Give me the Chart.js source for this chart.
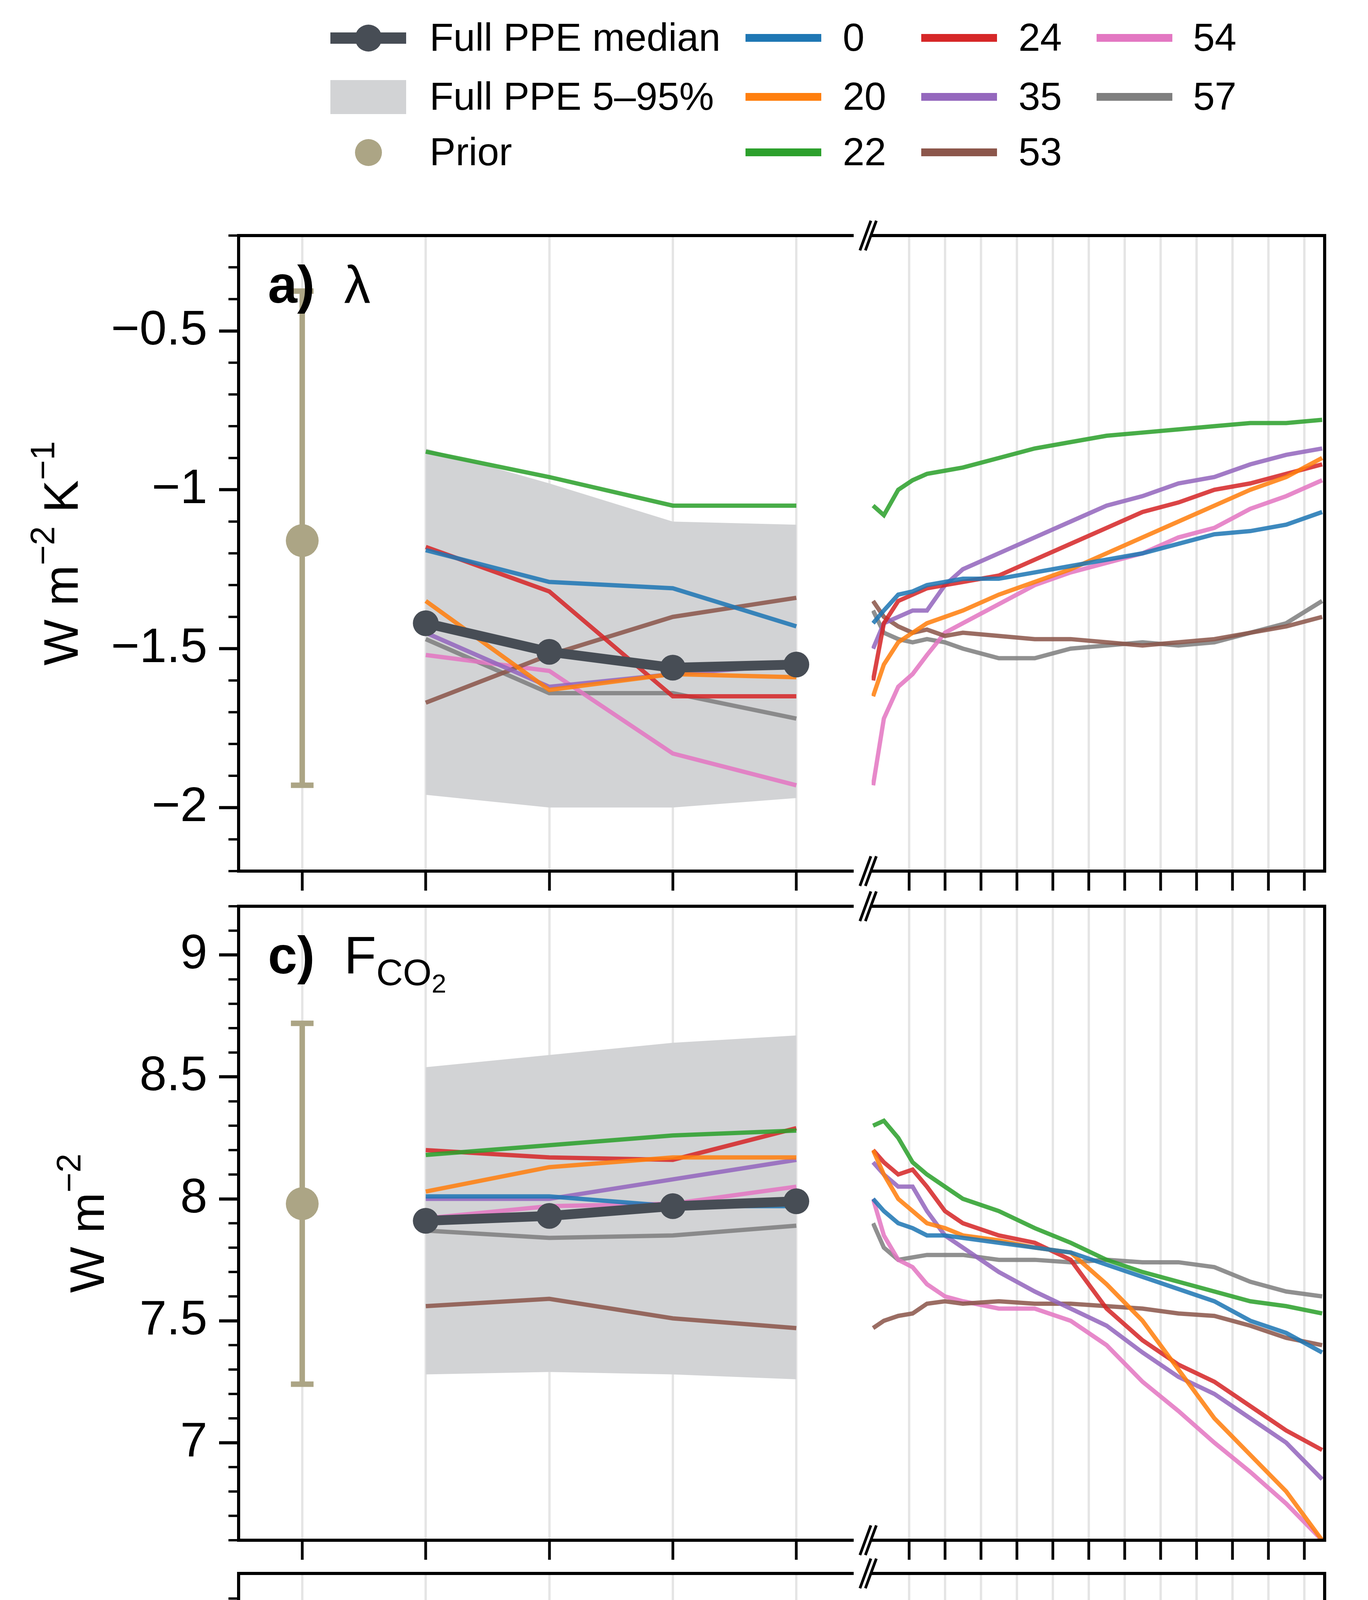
<!DOCTYPE html>
<html><head><meta charset="utf-8">
<script src="https://cdn.jsdelivr.net/npm/chart.js@4"></script>
<style>
body{margin:0;background:#fff;width:3503px;height:6075px;position:relative;overflow:hidden;font-family:"Liberation Sans",Arial,sans-serif;}
canvas{position:absolute;}
.lg{position:absolute;font-size:100px;line-height:100px;color:#000;white-space:nowrap;}
.ln{position:absolute;height:20px;}
</style></head><body>
<script>
// ---------- data ----------
const SERIES_IDS = ['0','20','22','24','35','53','54','57'];
const SERIES_COLORS = ['#1f77b4','#ff7f0e','#2ca02c','#d62728','#9467bd','#8c564b','#e377c2','#7f7f7f'];
const LEFT_X = [2,3,4,5];
const RIGHT_X = [5,8,12,16,20,25,30,40,50,60,70,80,90,100,110,120,130];
const LEFT_TICKS = [1,2,3,4,5];
const LEFT_TICK_LABELS = ['Prior','2','3','4','5'];
const RIGHT_TICKS = [15,25,35,45,55,65,75,85,95,105,115,125];

// panel a: lambda
const A_PRIOR = [-1.16,-1.93,-0.375];
const A_MEDIAN = [-1.42,-1.51,-1.56,-1.55];
const A_BAND_HI = [-0.87,-0.98,-1.10,-1.11];
const A_BAND_LO = [-1.96,-2.00,-2.00,-1.97];
const A_LEFT = [
 [-1.19,-1.29,-1.31,-1.43],
 [-1.35,-1.63,-1.58,-1.59],
 [-0.88,-0.96,-1.05,-1.05],
 [-1.18,-1.32,-1.65,-1.65],
 [-1.45,-1.62,-1.58,-1.55],
 [-1.67,-1.52,-1.40,-1.34],
 [-1.52,-1.57,-1.83,-1.93],
 [-1.47,-1.64,-1.64,-1.72]];
const A_RIGHT = [
 [-1.42,-1.38,-1.33,-1.32,-1.30,-1.29,-1.28,-1.28,-1.26,-1.24,-1.22,-1.20,-1.17,-1.14,-1.13,-1.11,-1.07],
 [-1.65,-1.55,-1.48,-1.45,-1.42,-1.40,-1.38,-1.33,-1.29,-1.25,-1.20,-1.15,-1.10,-1.05,-1.00,-0.96,-0.90],
 [-1.05,-1.08,-1.00,-0.97,-0.95,-0.94,-0.93,-0.90,-0.87,-0.85,-0.83,-0.82,-0.81,-0.80,-0.79,-0.79,-0.78],
 [-1.60,-1.42,-1.35,-1.33,-1.31,-1.30,-1.29,-1.27,-1.22,-1.17,-1.12,-1.07,-1.04,-1.00,-0.98,-0.95,-0.92],
 [-1.50,-1.42,-1.40,-1.38,-1.38,-1.30,-1.25,-1.20,-1.15,-1.10,-1.05,-1.02,-0.98,-0.96,-0.92,-0.89,-0.87],
 [-1.35,-1.40,-1.43,-1.45,-1.44,-1.46,-1.45,-1.46,-1.47,-1.47,-1.48,-1.49,-1.48,-1.47,-1.45,-1.43,-1.40],
 [-1.93,-1.72,-1.62,-1.58,-1.52,-1.45,-1.42,-1.36,-1.30,-1.26,-1.23,-1.20,-1.15,-1.12,-1.06,-1.02,-0.97],
 [-1.38,-1.45,-1.47,-1.48,-1.47,-1.48,-1.50,-1.53,-1.53,-1.50,-1.49,-1.48,-1.49,-1.48,-1.45,-1.42,-1.35]];
const A_YTICKS = [-2,-1.5,-1,-0.5];

// panel c: F_CO2
const C_PRIOR = [7.98,7.24,8.72];
const C_MEDIAN = [7.91,7.93,7.97,7.99];
const C_BAND_HI = [8.54,8.59,8.64,8.67];
const C_BAND_LO = [7.28,7.29,7.28,7.26];
const C_LEFT = [
 [8.01,8.01,7.97,7.97],
 [8.03,8.13,8.17,8.17],
 [8.18,8.22,8.26,8.28],
 [8.20,8.17,8.16,8.29],
 [8.00,8.00,8.08,8.16],
 [7.56,7.59,7.51,7.47],
 [7.92,7.97,7.98,8.05],
 [7.87,7.84,7.85,7.89]];
const C_RIGHT = [
 [8.00,7.95,7.90,7.88,7.85,7.85,7.84,7.82,7.80,7.78,7.73,7.68,7.63,7.58,7.50,7.45,7.37],
 [8.20,8.10,8.00,7.95,7.90,7.88,7.85,7.83,7.80,7.78,7.65,7.50,7.30,7.10,6.95,6.80,6.60],
 [8.30,8.32,8.25,8.15,8.10,8.05,8.00,7.95,7.88,7.82,7.75,7.70,7.66,7.62,7.58,7.56,7.53],
 [8.20,8.15,8.10,8.12,8.05,7.95,7.90,7.85,7.82,7.75,7.55,7.42,7.32,7.25,7.15,7.05,6.97],
 [8.15,8.10,8.05,8.05,7.95,7.85,7.80,7.70,7.62,7.55,7.48,7.37,7.27,7.20,7.10,7.00,6.85],
 [7.47,7.50,7.52,7.53,7.57,7.58,7.57,7.58,7.57,7.57,7.56,7.55,7.53,7.52,7.48,7.43,7.40],
 [8.00,7.85,7.75,7.72,7.65,7.60,7.58,7.55,7.55,7.50,7.40,7.25,7.13,7.00,6.88,6.75,6.60],
 [7.90,7.80,7.75,7.76,7.77,7.77,7.77,7.75,7.75,7.74,7.75,7.74,7.74,7.72,7.66,7.62,7.60]];
const C_YTICKS = [7,7.5,8,8.5,9];

// panel e: ECS
const E_PRIOR = [3.45,2.02,9.85];
const E_MEDIAN = [2.78,2.63,2.57,2.60];
const E_BAND_HI = [4.40,3.85,3.60,3.50];
const E_BAND_LO = [2.00,2.00,2.00,2.00];
const E_LEFT = [
 [3.35,3.10,3.05,2.75],
 [3.00,2.60,2.50,2.60],
 [4.62,4.30,3.95,3.97],
 [3.50,3.10,2.50,2.55],
 [2.75,2.55,2.60,2.70],
 [2.25,2.50,2.65,2.70],
 [2.55,2.50,2.15,2.08],
 [2.60,2.50,2.40,2.30]];
const E_RIGHT = [
 [2.80,2.85,2.90,2.90,2.90,2.92,2.95,2.98,3.00,3.05,3.12,3.20,3.27,3.33,3.40,3.45,3.50],
 [2.40,2.55,2.60,2.65,2.70,2.73,2.75,2.82,2.90,3.00,3.10,3.20,3.30,3.40,3.50,3.58,3.65],
 [3.80,3.75,3.90,4.05,4.10,4.15,4.20,4.30,4.40,4.50,4.60,4.68,4.75,4.80,4.83,4.84,4.85],
 [2.70,2.75,2.80,2.80,2.80,2.85,2.88,2.95,3.00,3.10,3.20,3.30,3.40,3.48,3.55,3.65,3.75],
 [2.60,2.75,2.80,2.85,2.90,2.95,3.00,3.10,3.20,3.30,3.40,3.50,3.58,3.65,3.75,3.83,3.92],
 [2.70,2.65,2.65,2.62,2.60,2.60,2.60,2.58,2.57,2.55,2.55,2.55,2.57,2.58,2.60,2.62,2.65],
 [2.20,2.35,2.45,2.55,2.60,2.65,2.70,2.75,2.80,2.88,2.95,3.00,3.08,3.15,3.20,3.30,3.40],
 [2.60,2.62,2.65,2.65,2.65,2.65,2.65,2.60,2.57,2.55,2.55,2.56,2.58,2.60,2.60,2.65,2.75]];
const E_YTICKS = [0,2,4,6,8,10];

// ---------- layout ----------
const FONT = '"Liberation Sans", Arial, sans-serif';
const TICKF = 125;
const PLOT_L = 611, SPLIT = 2214, RIGHT_L = 2232, PLOT_R = 3392;
const LW = 8;
const MEDIAN_C = '#474d55', PRIOR_C = '#aca585', BAND_C = '#d2d3d5', GRID_C = 'rgba(0,0,0,0.1)';
const LINE_W = 11;
function alpha(hex){ return hex + 'dd'; }

function richText(ctx, segs, x, y, align) {
  let w = 0;
  segs.forEach(s => { ctx.font = (s.bold?'bold ':'') + s.size + 'px ' + FONT; s.w = ctx.measureText(s.t).width; w += s.w; });
  let cx = align === 'center' ? x - w/2 : x;
  segs.forEach(s => { ctx.font = (s.bold?'bold ':'') + s.size + 'px ' + FONT; ctx.fillText(s.t, cx, y + (s.dy||0)); cx += s.w; });
}

const framePlugin = {
  id: 'frame',
  afterDraw(chart, args, o) {
    const ctx = chart.ctx, a = chart.chartArea;
    ctx.save();
    ctx.strokeStyle = '#000'; ctx.lineWidth = LW; ctx.lineCap = 'square';
    ctx.beginPath();
    if (o.side === 'left') {
      ctx.moveTo(a.right + 10, a.top); ctx.lineTo(a.left, a.top); ctx.lineTo(a.left, a.bottom); ctx.lineTo(a.right + 10, a.bottom);
    } else {
      ctx.moveTo(a.left, a.top); ctx.lineTo(a.right, a.top); ctx.lineTo(a.right, a.bottom); ctx.lineTo(a.left, a.bottom);
    }
    ctx.stroke();
    if (o.side === 'left') {
      const ys = chart.scales.y;
      ctx.lineWidth = 6; ctx.lineCap = 'butt'; ctx.beginPath();
      for (let v = o.minorStart; v <= ys.max + 1e-9; v += o.minor) {
        const p = ys.getPixelForValue(v);
        if (p < a.top - 1 || p > a.bottom + 1) continue;
        ctx.moveTo(a.left, p); ctx.lineTo(a.left - 26, p);
      }
      ctx.stroke();
      ctx.fillStyle = '#000'; ctx.textBaseline = 'middle';
      ctx.save(); ctx.translate(o.titleX, (a.top + a.bottom)/2); ctx.rotate(-Math.PI/2);
      richText(ctx, o.title, 0, 0, 'center'); ctx.restore();
      ctx.textBaseline = 'alphabetic';
      richText(ctx, o.label, 686, a.top + 172, 'left');
    } else {
      ctx.lineWidth = 7; ctx.lineCap = 'butt';
      [a.top, a.bottom].forEach(yy => {
        [-12, 2].forEach(dx => {
          ctx.beginPath(); ctx.moveTo(a.left + dx - 18, yy + 38); ctx.lineTo(a.left + dx + 10, yy - 38); ctx.stroke();
        });
      });
    }
    ctx.restore();
  },
  beforeDatasetsDraw(chart, args, o) {
    if (o.side !== 'left') return;
    const ctx = chart.ctx, xs = chart.scales.x, ys = chart.scales.y;
    const px = xs.getPixelForValue(1), lo = ys.getPixelForValue(o.prior[1]), hi = ys.getPixelForValue(o.prior[2]);
    ctx.save(); ctx.strokeStyle = PRIOR_C; ctx.lineWidth = 14;
    ctx.beginPath(); ctx.moveTo(px, lo); ctx.lineTo(px, hi);
    ctx.moveTo(px - 29, lo); ctx.lineTo(px + 29, lo); ctx.moveTo(px - 29, hi); ctx.lineTo(px + 29, hi);
    ctx.stroke(); ctx.restore();
  }
};
Chart.register(framePlugin);

function fmt(v){ const s = String(Math.round(v*100)/100); return s.replace('-', '\u2212'); }

function makePanel(p) {
  const padTop = 100;
  const plotH = p.bottom - p.top;
  const xh = p.labels ? 240 : 80;
  const H = padTop + plotH + xh;
  const yScale = (disp) => {
    const s = {
    type:'linear', min:p.ymin, max:p.ymax, display: disp,
    afterBuildTicks: s => { s.ticks = p.yticks.map(v => ({value:v})); },
    grid:{ drawOnChartArea:false, tickLength:50, tickWidth:8, tickColor:'#000', drawTicks:true },
    border:{ display:false },
    ticks:{ font:{size:TICKF, family:FONT}, color:'#000', padding:30, callback:v=>fmt(v) }
    };
    if (disp) s.afterFit = sc => { sc.width = PLOT_L; sc.paddingTop = 0; sc.paddingBottom = 0; };
    return s;
  };
  const xScale = (ticks, labels, min, max) => ({
    type:'linear', min, max, z:1,
    afterBuildTicks: s => { s.ticks = ticks.map(v => ({value:v})); },
    afterFit: s => { s.height = xh; s.paddingLeft = 0; s.paddingRight = 0; },
    grid:{ color:GRID_C, lineWidth:6, tickLength:50, tickWidth:7, tickColor:'#000' },
    border:{ display:false },
    ticks:{ font:{size:TICKF, family:FONT}, color:'#000', padding:16, autoSkip:false, maxRotation:0,
      callback:(v,i)=> p.labels ? labels[i] : '' }
  });
  const c1 = document.createElement('canvas');
  c1.style.left = '0px'; c1.style.top = (p.top - padTop) + 'px';
  c1.width = SPLIT; c1.height = H;
  document.body.appendChild(c1);
  const ds1 = [
    {data: LEFT_X.map((x,i)=>({x,y:p.bandHi[i]})), borderWidth:0, pointRadius:0, backgroundColor:BAND_C, fill:'+1', order:20},
    {data: LEFT_X.map((x,i)=>({x,y:p.bandLo[i]})), borderWidth:0, pointRadius:0, fill:false, order:21}
  ];
  p.left.forEach((arr,k) => ds1.push({data: LEFT_X.map((x,i)=>({x,y:arr[i]})), borderColor:alpha(SERIES_COLORS[k]), borderWidth:LINE_W, pointRadius:0, fill:false, order:10}));
  ds1.push({data: LEFT_X.map((x,i)=>({x,y:p.median[i]})), borderColor:MEDIAN_C, borderWidth:25, pointRadius:33, pointBackgroundColor:MEDIAN_C, pointBorderWidth:0, fill:false, order:2});
  ds1.push({data:[{x:1,y:p.prior[0]}], showLine:false, pointRadius:42, pointBackgroundColor:PRIOR_C, pointBorderWidth:0, order:1});
  new Chart(c1, {type:'line', data:{datasets:ds1}, options:{
    responsive:false, animation:false, devicePixelRatio:1,
    layout:{padding:{top:padTop, right:0, left:0, bottom:0}},
    plugins:{legend:{display:false}, tooltip:{enabled:false},
      frame:{side:'left', prior:p.prior, minor:p.minor, minorStart:p.minorStart, title:p.title, titleX:p.titleX, label:p.label}},
    scales:{ x: xScale(LEFT_TICKS, LEFT_TICK_LABELS, 0.485, 5.42), y: yScale(true) }
  }});
  const RX = 2140;
  const c2 = document.createElement('canvas');
  c2.style.left = RX + 'px'; c2.style.top = (p.top - padTop) + 'px';
  c2.width = 3503 - RX; c2.height = H;
  document.body.appendChild(c2);
  const ds2 = p.right.map((arr,k) => ({data: RIGHT_X.map((x,i)=>({x,y:arr[i]})), borderColor:alpha(SERIES_COLORS[k]), borderWidth:LINE_W, pointRadius:0, fill:false}));
  new Chart(c2, {type:'line', data:{datasets:ds2}, options:{
    responsive:false, animation:false, devicePixelRatio:1,
    layout:{padding:{top:padTop, left:RIGHT_L - RX, right:3503 - PLOT_R, bottom:0}},
    plugins:{legend:{display:false}, tooltip:{enabled:false}, frame:{side:'right'}},
    scales:{ x: xScale(RIGHT_TICKS, RIGHT_TICKS.map(String), 4.6, 130.7), y: yScale(false) }
  }});
}

const S = TICKF, PL = 135;
makePanel({top:603, bottom:2230, ymin:-2.2, ymax:-0.2, yticks:A_YTICKS, minor:0.1, minorStart:-2.2,
  prior:A_PRIOR, median:A_MEDIAN, bandHi:A_BAND_HI, bandLo:A_BAND_LO, left:A_LEFT, right:A_RIGHT, labels:false,
  titleX:165, title:[{t:'W m',size:S},{t:'\u22122',size:S*0.7,dy:-S*0.4},{t:' K',size:S},{t:'\u22121',size:S*0.7,dy:-S*0.4}],
  label:[{t:'a)',size:PL,bold:true},{t:'  \u03bb',size:PL}]});
makePanel({top:2320, bottom:3943, ymin:6.6, ymax:9.2, yticks:C_YTICKS, minor:0.1, minorStart:6.6,
  prior:C_PRIOR, median:C_MEDIAN, bandHi:C_BAND_HI, bandLo:C_BAND_LO, left:C_LEFT, right:C_RIGHT, labels:false,
  titleX:232, title:[{t:'W m',size:S},{t:'\u22122',size:S*0.7,dy:-S*0.4}],
  label:[{t:'c)',size:PL,bold:true},{t:'  F',size:PL},{t:'CO',size:PL*0.7,dy:PL*0.22},{t:'2',size:PL*0.5,dy:PL*0.36}]});
makePanel({top:4028, bottom:5663, ymin:0, ymax:11.45, yticks:E_YTICKS, minor:0.5, minorStart:0,
  prior:E_PRIOR, median:E_MEDIAN, bandHi:E_BAND_HI, bandLo:E_BAND_LO, left:E_LEFT, right:E_RIGHT, labels:true,
  titleX:280, title:[{t:'K',size:S}],
  label:[{t:'e)',size:PL,bold:true},{t:'  ECS',size:PL}]});

const xt = document.createElement('div');
xt.className='lg'; xt.style.fontSize='125px'; xt.style.lineHeight='125px';
xt.style.left='2008px'; xt.style.top='5905px'; xt.style.transform='translateX(-50%)';
xt.textContent='Simulation length (years)';
document.body.appendChild(xt);

function lgText(t,x,y){ const d=document.createElement('div'); d.className='lg'; d.style.left=x+'px'; d.style.top=(y-52)+'px'; d.textContent=t; document.body.appendChild(d); }
function lgLine(c,x,y,w,h){ const d=document.createElement('div'); d.className='ln'; d.style.left=x+'px'; d.style.top=(y-h/2)+'px'; d.style.width=w+'px'; d.style.height=h+'px'; d.style.background=c; document.body.appendChild(d); return d; }
const LR = [97,248,390];
lgLine(MEDIAN_C,846,LR[0],194,29);
const dot=lgLine(MEDIAN_C,909,LR[0],69,69); dot.style.borderRadius='50%';
lgText('Full PPE median',1100,LR[0]);
lgLine(BAND_C,846,LR[1],194,87);
lgText('Full PPE 5\u201395%',1100,LR[1]);
const pd=lgLine(PRIOR_C,909,LR[2],69,69); pd.style.borderRadius='50%';
lgText('Prior',1100,LR[2]);
const LC = [[1909,2158],[2359,2608],[2808,3055]];
SERIES_IDS.forEach((id,k)=>{
  const col = Math.floor(k/3), row = k%3;
  lgLine(SERIES_COLORS[k], LC[col][0], LR[row], 194, 20);
  lgText(id, LC[col][1], LR[row]);
});
</script>
</body></html>
